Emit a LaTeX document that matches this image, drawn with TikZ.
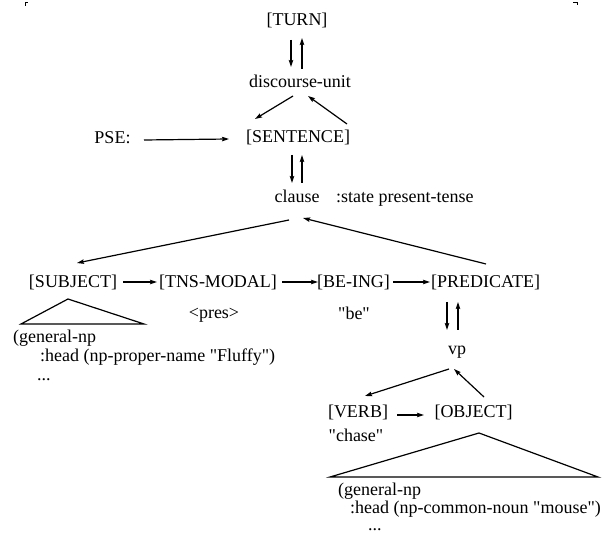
\documentclass[tikz,border=0pt]{standalone}
\usepackage{fontspec}
\setmainfont{Liberation Serif}[Ligatures=TeXOff]
\usetikzlibrary{arrows.meta}
\begin{document}
\begin{tikzpicture}[x=1pt,y=-1pt,
  lbl/.style={anchor=base,inner sep=0pt,font=\fontsize{18}{22}\selectfont},
  lblw/.style={lbl,anchor=base west},
  arr/.style={line width=1.2pt,-{Stealth[length=7pt,width=4.5pt,inset=1pt]}},
  tri/.style={line width=1.2pt,line join=miter},
  cropmark/.style={line width=0.6pt}]
\useasboundingbox (0,0) rectangle (608,534);

% crop marks
\draw[cropmark] (25,6) -- (25,2) -- (27.5,2);
\draw[cropmark] (573,2) -- (577,2) -- (577,5.5);

% top of the structure
\node[lbl] (turn)   at (297,26)   {[TURN]};
\node[lbl] (du)     at (300,88)   {discourse-unit};
\node[lbl] (pse)    at (112.5,144) {PSE:};
\node[lbl] (sent)   at (298,143)  {[SENTENCE]};
\node[lbl] (clause) at (297,203)  {clause};
\node[lblw] (state) at (336,203)  {:state present-tense};

% clause constituents
\node[lbl] (subj) at (73,288)    {[SUBJECT]};
\node[lbl] (tns)  at (218,288)   {[TNS-MODAL]};
\node[lbl] (bei)  at (353.5,288) {[BE-ING]};
\node[lbl] (pred) at (485.5,288) {[PREDICATE]};
\node[lbl] (pres) at (214,319)   {<pres>};
\node[lbl] (be)   at (354,320)   {"be"};

% subject filler
\node[lblw] (sa) at (13,343) {(general-np};
\node[lblw] (sb) at (40,362) {:head (np-proper-name "Fluffy")};
\node[lblw] (sc) at (37,381) {...};

% verb phrase
\node[lbl] (vp)    at (457,355) {vp};
\node[lbl] (verb)  at (358,418) {[VERB]};
\node[lbl] (obj)   at (473.5,418) {[OBJECT]};
\node[lbl] (chase) at (356,442) {"chase"};

% object filler
\node[lblw] (oa) at (338,495) {(general-np};
\node[lblw] (ob) at (350,513) {:head (np-common-noun "mouse")};
\node[lblw] (oc) at (368,530) {...};

% triangles
\draw[tri] (68,299) -- (21,324) -- (144,324) -- cycle;
\draw[tri] (479,433) -- (330,477) -- (598,477) -- cycle;

% connectors
\draw[arr] ([shift={(-6,14)}]turn.base) -- ([shift={(-9,-21)}]du.base);
\draw[arr] ([shift={(2,-19)}]du.base) -- ([shift={(5,12)}]turn.base);
\draw[arr] ([shift={(-7,8)}]du.base) -- ([shift={(-43,-24)}]sent.base);
\draw[arr] ([shift={(49,-19)}]sent.base) -- ([shift={(8,8)}]du.base);
\draw[arr] ([shift={(31.5,-4)}]pse.base) -- ([shift={(-69,-4)}]sent.base);
\draw[arr] ([shift={(-6,12)}]sent.base) -- ([shift={(-5,-20)}]clause.base);
\draw[arr] ([shift={(5,-20)}]clause.base) -- ([shift={(4,12)}]sent.base);
\draw[arr] ([shift={(-8,17)}]clause.base) -- ([shift={(4,-25)}]subj.base);
\draw[arr] ([shift={(0.5,-24)}]pred.base) -- ([shift={(6,15)}]clause.base);
\draw[arr] ([shift={(50,-6)}]subj.base) -- ([shift={(-61,-6)}]tns.base);
\draw[arr] ([shift={(64,-6)}]tns.base) -- ([shift={(-35.5,-6)}]bei.base);
\draw[arr] ([shift={(39.5,-6)}]bei.base) -- ([shift={(-55.5,-6)}]pred.base);
\draw[arr] ([shift={(-38.5,14)}]pred.base) -- ([shift={(-10,-25)}]vp.base);
\draw[arr] ([shift={(1,-25)}]vp.base) -- ([shift={(-27.5,14)}]pred.base);
\draw[arr] ([shift={(-8,14)}]vp.base) -- ([shift={(7,-22)}]verb.base);
\draw[arr] ([shift={(10.5,-21)}]obj.base) -- ([shift={(-3,14)}]vp.base);
\draw[arr] ([shift={(39,-3)}]verb.base) -- ([shift={(-49.5,-3)}]obj.base);
\end{tikzpicture}
\end{document}
